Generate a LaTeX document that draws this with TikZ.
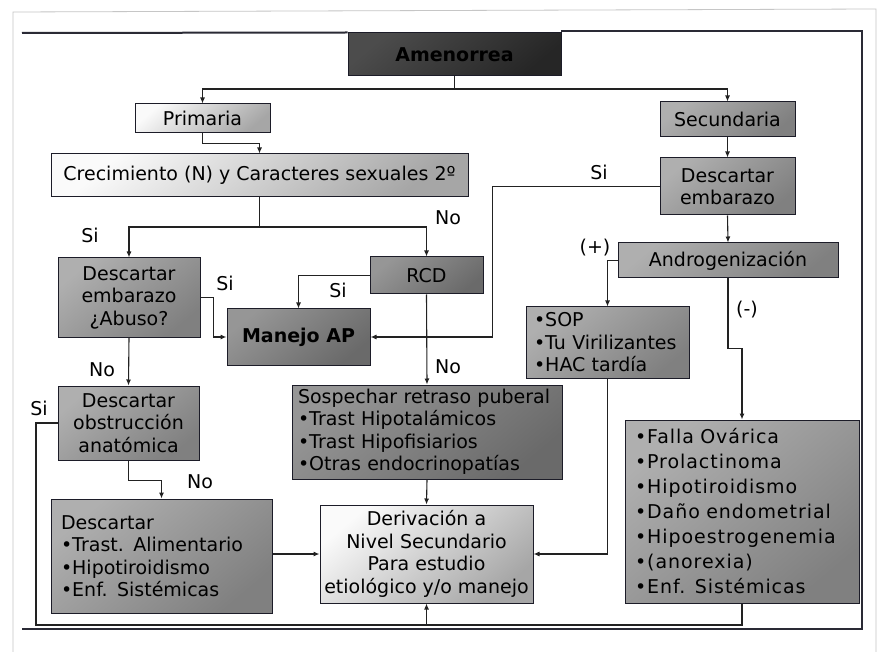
\documentclass[tikz,border=0pt]{standalone}
\usepackage{fontspec}
\setmainfont{DejaVu Sans}
\usetikzlibrary{arrows.meta,calc}
\definecolor{bd}{HTML}{1C1C28}
\definecolor{ln}{HTML}{222222}
\definecolor{lightA}{HTML}{FAFAFA}
\definecolor{lightB}{HTML}{A6A6A6}
\definecolor{midA}{HTML}{AFAFAF}
\definecolor{midB}{HTML}{808080}
\definecolor{drkA}{HTML}{969696}
\definecolor{drkB}{HTML}{6A6A6A}
\definecolor{amA}{HTML}{4C4C4C}
\definecolor{amB}{HTML}{262626}
\definecolor{frm}{HTML}{2A2A35}
\begin{document}
\begin{tikzpicture}[x=1pt,y=-1pt,
  font=\fontsize{19}{22.5}\selectfont,
  box/.style={draw=bd, line width=1pt, inner sep=0pt, align=center, text=black},
  lightbox/.style={box, top color=lightA, bottom color=lightB, shading angle=40},
  midbox/.style={box, top color=midA, bottom color=midB, shading angle=40},
  drkbox/.style={box, top color=drkA, bottom color=drkB, shading angle=40},
  ambox/.style={box, top color=amA, bottom color=amB, shading angle=40},
  leftbox/.style={align=left, inner xsep=8pt, text width=#1},
  conn/.style={draw=ln, line width=1.1pt},
  arr/.style={conn, -{Latex[length=6pt,width=5pt]}},
  lbl/.style={inner sep=0pt, text=black},
  frame/.style={draw=frm, line width=2pt}]
\useasboundingbox (0,0) rectangle (878,652);
\fill[white] (0,0) rectangle (878,652);
% scan border
\draw[gray!45, line width=0.8pt] (13,652) -- (13,12) -- (876,9) -- (876,652);

% nodes
\node[ambox, minimum width=213pt, minimum height=43pt, font=\fontsize{19}{22.5}\selectfont\bfseries] (am) at (454.5,54.5) {Amenorrea};
\node[lightbox, minimum width=135pt, minimum height=29pt] (prim) at (202.5,118.5) {Primaria};
\node[midbox, minimum width=135pt, minimum height=35pt] (sec) at (727.5,119.5) {Secundaria};
\node[lightbox, minimum width=417pt, minimum height=43pt] (crec) at (259.5,175.5) {Crecimiento (N) y Caracteres sexuales 2º};
\node[midbox, minimum width=135pt, minimum height=57pt] (de2) at (727.5,186.5) {Descartar\\embarazo};
\node[midbox, minimum width=220pt, minimum height=35pt] (an) at (728,260.5) {Androgenización};
\node[midbox, minimum width=142pt, minimum height=79pt] (dab) at (129,297.5) {Descartar\\embarazo\\¿Abuso?};
\node[drkbox, minimum width=113pt, minimum height=37pt] (rcd) at (426.5,275.5) {RCD};
\node[drkbox, minimum width=143pt, minimum height=56pt, font=\fontsize{19}{22.5}\selectfont\bfseries] (man) at (298.5,337) {Manejo AP};
\node[midbox, leftbox=147pt, minimum height=71pt] (sop) at (607.5,342.5) {•SOP\\•Tu Virilizantes\\•HAC tardía};
\node[drkbox, leftbox=258pt, minimum height=94pt, inner xsep=6pt] (sos) at (427,432) {Sospechar retraso puberal\\•Trast Hipotalámicos\\•Trast Hipofisiarios\\•Otras endocrinopatías};
\node[midbox, minimum width=141pt, minimum height=74pt] (dob) at (128.5,423) {Descartar\\obstrucción\\anatómica};
\node[midbox, leftbox=214pt, inner xsep=10pt, minimum height=183pt, font=\fontsize{19}{25}\selectfont\addfontfeature{LetterSpace=5}] (fal) at (742,511.5) {•Falla Ovárica\\•Prolactinoma\\•Hipotiroidismo\\•Daño endometrial\\•Hipoestrogenemia\\•(anorexia)\\•Enf. Sistémicas};
\node[midbox, leftbox=201pt, inner xsep=10pt, minimum height=114pt] (dl) at (161.5,556) {Descartar\\•Trast. Alimentario\\•Hipotiroidismo\\•Enf. Sistémicas};
\node[lightbox, minimum width=213pt, minimum height=98pt] (der) at (426.5,554) {Derivación a\\Nivel Secundario\\Para estudio\\etiológico y/o manejo};

% frame
\draw[frame] (22,33) -- (am.north west);
\draw[frame] (561,31) -- (862,31) -- (862,629) -- (22,629);

% connectors
\coordinate (j1) at (am.south |- 0,89);
\draw[conn] (am.south) -- (j1);
\draw[arr] (j1) -| (prim.north);
\draw[arr] (j1) -| (sec.north);
\draw[arr] (prim.south) -- ++(0,10) -| (crec.north);
\coordinate (j2) at (crec.south |- 0,227);
\draw[conn] (crec.south) -- (j2);
\draw[arr] (j2) -| (dab.north);
\draw[arr] (j2) -| (rcd.north);
\draw[arr] (dab.east) -- ++(13,0) |- (man.west);
\draw[arr] (rcd.west) -| (man.north);
\draw[arr] (sec.south) -- (de2.north);
\draw[arr] (de2.south) -- (an.north);
\draw[arr] (de2.west) -- ++(-167,0) |- (man.east);
\draw[arr] (an.west) -| (sop.north);
\draw[arr] (an.south) -- ++(0,70) -| (fal.north);
\draw[arr] (sop.south) |- (der.east);
\draw[arr] (rcd.south) -- (sos.north);
\draw[arr] (sos.south) -- (der.north);
\draw[arr] (dab.south) -- (dob.north);
\draw[arr] (dob.south) -- ++(0,20) -| (dl.north);
\draw[arr] (dl.east |- der.west) -- (der.west);
\coordinate (bl) at (36,625);
\draw[conn] (dob.west) -| (bl) -- (fal.south |- bl) -- (fal.south);
\draw[arr] (der.south |- bl) -- (der.south);

% labels
\node[lbl] (l1) at (90,235) {Si};
\node[lbl] (l2) at (448,218) {No};
\node[lbl] (l3) at (225,283) {Si};
\node[lbl] (l4) at (338,290) {Si};
\node[lbl] (l5) at (599,172) {Si};
\node[lbl] (l6) at (595,248) {(+)};
\node[lbl] (l7) at (747,310) {(-)};
\node[lbl] (l8) at (448,367) {No};
\node[lbl] (l9) at (102,370) {No};
\node[lbl] (l10) at (39,408) {Si};
\node[lbl] (l11) at (200,482) {No};
\end{tikzpicture}
\end{document}
